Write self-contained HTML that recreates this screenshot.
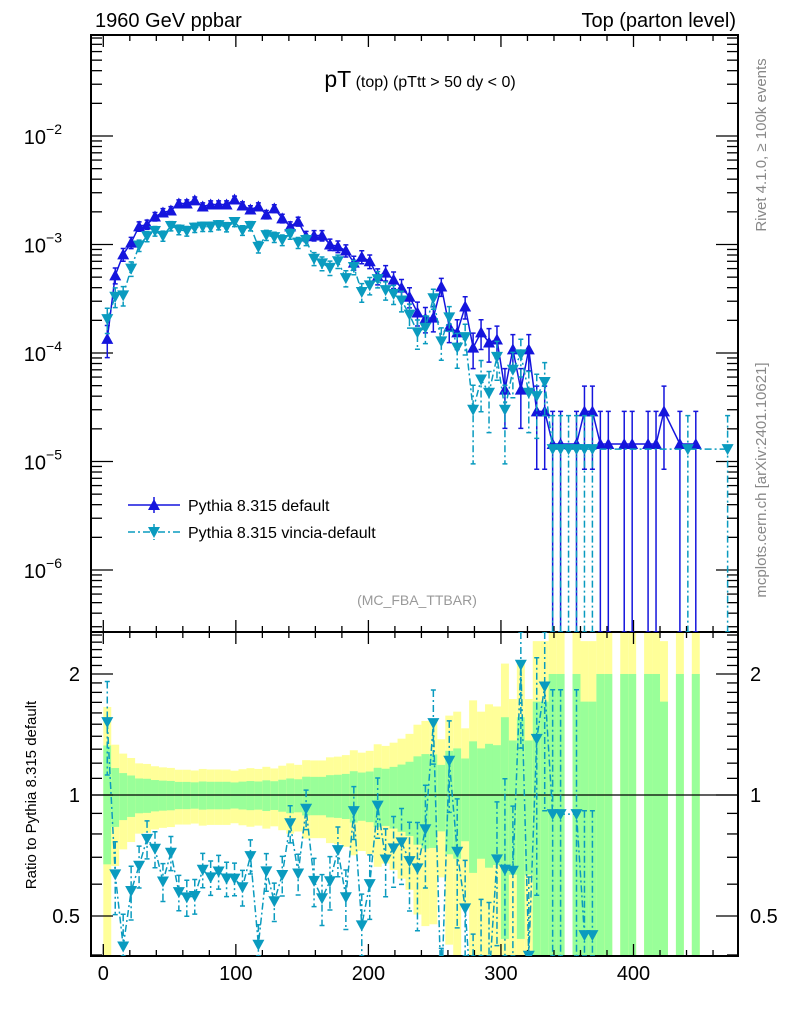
<!DOCTYPE html>
<html><head><meta charset="utf-8"><style>
html,body{margin:0;padding:0;background:#fff;overflow:hidden;width:786px;height:1024px}
svg{display:block;font-family:"Liberation Sans",Arial,sans-serif}
</style></head><body>
<svg id="chart" width="786" height="1024" viewBox="0 0 786 1024" xmlns="http://www.w3.org/2000/svg">
<defs>
<clipPath id="clipMain"><rect x="91" y="35" width="647" height="597"/></clipPath>
<clipPath id="clipRatio"><rect x="91" y="632" width="647" height="324"/></clipPath>
</defs>
<g id="bands" clip-path="url(#clipRatio)"></g>
<g id="axes"></g>
<g id="mainData" clip-path="url(#clipMain)"></g>
<g id="ratioData" clip-path="url(#clipRatio)"></g>
<text x="95" y="27" font-size="20">1960 GeV ppbar</text>
<text x="736" y="27" font-size="20" text-anchor="end">Top (parton level)</text>
<text x="420" y="87" text-anchor="middle"><tspan font-size="23">pT</tspan><tspan font-size="16"> (top)  (pTtt &gt; 50 dy &lt; 0)</tspan></text>
<text x="417" y="605" font-size="14" fill="#999" text-anchor="middle">(MC_FBA_TTBAR)</text>
<text transform="translate(766,145) rotate(-90)" font-size="15" fill="#888" text-anchor="middle">Rivet 4.1.0, ≥ 100k events</text>
<text transform="translate(766,480) rotate(-90)" font-size="15" fill="#888" text-anchor="middle">mcplots.cern.ch [arXiv:2401.10621]</text>
<text transform="translate(36,795) rotate(-90)" font-size="15" text-anchor="middle">Ratio to Pythia 8.315 default</text>
<g>
<g>
<line x1="128" y1="505" x2="180" y2="505" stroke="#1515dd" stroke-width="1.5"/>
<line x1="154" y1="497" x2="154" y2="513" stroke="#1515dd" stroke-width="1.5"/>
<polygon points="148,510 160,510 154,499" fill="#1515dd"/>
<text x="188" y="511" font-size="16">Pythia 8.315 default</text>
</g>
<g>
<line x1="128" y1="532" x2="180" y2="532" stroke="#0a9bbf" stroke-width="1.5" stroke-dasharray="7,3,2,3"/>
<line x1="154" y1="524" x2="154" y2="540" stroke="#0a9bbf" stroke-width="1.5" stroke-dasharray="7,3,2,3"/>
<polygon points="148,527 160,527 154,538" fill="#0a9bbf"/>
<text x="188" y="538" font-size="16">Pythia 8.315 vincia-default</text>
</g>
</g>
</svg>
<script>
const binWidth = 6;
const defaultVals = [1.35e-4,5.2e-4,8.1e-4,1.04e-3,1.47e-3,1.53e-3,1.81e-3,1.97e-3,2.06e-3,2.39e-3,
2.39e-3,2.55e-3,2.24e-3,2.34e-3,2.34e-3,2.34e-3,2.60e-3,2.29e-3,2.10e-3,2.24e-3,
1.89e-3,2.15e-3,1.74e-3,1.47e-3,1.63e-3,1.19e-3,1.21e-3,1.21e-3,1.0e-3,0.96e-3,
0.88e-3,0.68e-3,0.77e-3,0.70e-3,0.51e-3,0.55e-3,0.475e-3,0.40e-3,0.33e-3,0.236e-3,
0.208e-3,0.212e-3,0.41e-3,0.175e-3,0.155e-3,0.268e-3,0.112e-3,0.155e-3,0.125e-3,0.133e-3,
0.046e-3,0.108e-3,0.046e-3,0.108e-3,2.9e-5,2.9e-5,1.45e-5,1.45e-5,0,1.45e-5,
2.9e-5,2.9e-5,1.45e-5,1.45e-5,0,1.45e-5,1.45e-5,0,1.45e-5,1.45e-5,
2.9e-5,0,1.45e-5,0,1.45e-5,0,0,0,0];
const vinciaVals = [2.05e-4,3.3e-4,3.4e-4,6.0e-4,0.98e-3,1.19e-3,1.33e-3,1.2e-3,1.48e-3,1.37e-3,
1.33e-3,1.43e-3,1.46e-3,1.46e-3,1.51e-3,1.45e-3,1.61e-3,1.35e-3,1.48e-3,0.95e-3,
1.22e-3,1.17e-3,1.10e-3,1.25e-3,1.04e-3,1.1e-3,0.74e-3,0.67e-3,0.61e-3,0.70e-3,
0.49e-3,0.62e-3,0.365e-3,0.42e-3,0.48e-3,0.38e-3,0.35e-3,0.305e-3,0.226e-3,0.155e-3,
0.171e-3,0.32e-3,0.128e-3,0.213e-3,0.112e-3,0.14e-3,0.030e-3,0.057e-3,0.043e-3,0.092e-3,
0.03e-3,0.07e-3,0.097e-3,0.043e-3,0.04e-3,0.054e-3,1.3e-5,1.3e-5,1.3e-5,1.3e-5,
1.3e-5,1.3e-5,0,0,0,0,0,0,0,0,
0,0,0,1.3e-5,0,0,0,0,1.3e-5];
const eventWeightDefault = 1.45e-5;
const eventWeightVincia = 1.4e-5;
const xTicks = [0,100,200,300,400];
const yTicksMain = [-6,-5,-4,-3,-2];
const yTicksRatio = [0.5,1,2];

const NS="http://www.w3.org/2000/svg";
const X0=103.3, XS=1.3255;
function X(g){return X0+g*XS;}
function Ym(v){return 136-(Math.log10(v)+2)*108.5;}
function Yr(r){return 795-Math.log10(r)*402;}
const MAIN_TOP=35, MAIN_BOT=632, R_TOP=632, R_BOT=956, LEFT=91, RIGHT=738;
function mk(parent,tag,attrs){const e=document.createElementNS(NS,tag);for(const k in attrs)e.setAttribute(k,attrs[k]);parent.appendChild(e);return e;}
const axes=document.getElementById('axes');
const bands=document.getElementById('bands');
const mainG=document.getElementById('mainData');
const ratioG=document.getElementById('ratioData');
const BLUE="#1515dd", CYAN="#0a9bbf";
function clampR(y){return Math.max(R_TOP,Math.min(R_BOT,y));}
function clampM(y){return Math.max(MAIN_TOP,Math.min(MAIN_BOT,y));}

for(let i=0;i<defaultVals.length;i++){
  const d=defaultVals[i]; if(d<=0) continue;
  const e=Math.sqrt(eventWeightDefault/d);
  const x1=X(i*binWidth), x2=X((i+1)*binWidth);
  const yTop=clampR(Yr(1+2*e)), yBot=(1-2*e)>0?clampR(Yr(1-2*e)):R_BOT;
  const yb=mk(bands,'rect',{x:x1,y:yTop,width:x2-x1,height:yBot-yTop,fill:'#ffff99'});
  
  
  const gTop=clampR(Yr(1+e)), gBot=(1-e)>0.001?clampR(Yr(1-e)):R_BOT;
  const gb=mk(bands,'rect',{x:x1,y:gTop,width:x2-x1,height:gBot-gTop,fill:'#99ff99'});
  
  
}

function frame(y1,y2,name){const r=mk(axes,'rect',{x:LEFT,y:y1,width:RIGHT-LEFT,height:y2-y1,fill:'none',stroke:'#000','stroke-width':2});

}
frame(MAIN_TOP,MAIN_BOT,'main-plot-frame');frame(R_TOP,R_BOT,'ratio-plot-frame');
function tick(x1,y1,x2,y2,w){mk(axes,'line',{x1,y1,x2,y2,stroke:'#000','stroke-width':w||1.3});}
for(let g=-20;g<=480;g+=20){
  const x=X(g); if(x<LEFT||x>RIGHT) continue;
  const maj=g%100===0; const L=maj?12:6;
  [[MAIN_TOP,1],[MAIN_BOT,-1],[R_TOP,1],[R_BOT,-1]].forEach(([y,s])=>tick(x,y,x,y+s*L));
}
xTicks.forEach(t=>{const tx=mk(axes,'text',{x:X(t),y:980,'font-size':20,'text-anchor':'middle'});tx.textContent=t;

});
for(let dec=-7;dec<=-1;dec++){
  for(let m=1;m<=9;m++){
    const y=Ym(m*Math.pow(10,dec)); if(y<MAIN_TOP||y>MAIN_BOT) continue;
    const L=m===1?22:11;
    tick(LEFT,y,LEFT+L,y);tick(RIGHT,y,RIGHT-L,y);
  }
}
yTicksMain.forEach(p=>{const tx=mk(axes,'text',{x:62,y:Ym(Math.pow(10,p))+8,'font-size':20,'text-anchor':'end'});
tx.innerHTML='10<tspan font-size="14" dy="-10">'+(p<0?'−'+(-p):p)+'</tspan>';

});
const minorR=[0.4,0.6,0.7,0.8,0.9,1.1,1.2,1.3,1.4,1.5,1.6,1.7,1.8,1.9,2.1,2.2,2.3,2.4,2.5];
minorR.forEach(r=>{const y=Yr(r);if(y<R_TOP||y>R_BOT)return;tick(LEFT,y,LEFT+11,y);tick(RIGHT,y,RIGHT-11,y);});
yTicksRatio.forEach(r=>{const y=Yr(r);tick(LEFT,y,LEFT+22,y);tick(RIGHT,y,RIGHT-22,y);
 const a=mk(axes,'text',{x:80,y:y+7,'font-size':20,'text-anchor':'end'});a.textContent=r;
 
 
 const b=mk(axes,'text',{x:750,y:y+7,'font-size':20});b.textContent=r;
 
 });
mk(ratioG,'line',{x1:LEFT,y1:Yr(1),x2:RIGHT,y2:Yr(1),stroke:'#000','stroke-width':1.3});

function series(g,vals,w,color,dash,up,name){
  const pts=[];
  vals.forEach((v,i)=>{
    if(v<=0) return;
    const x=X((i+0.5)*binWidth), y=Ym(v);
    const err=Math.sqrt(w*v);
    const yt=clampM(Ym(v+err)), yb=(v-err)>1e-9?clampM(Ym(v-err)):MAIN_BOT;
    const eb=mk(g,'path',{d:`M${x},${yt}V${yb}M${x-2.5},${yt}H${x+2.5}M${x-2.5},${yb}H${x+2.5}`,stroke:color,'stroke-width':1.5,fill:'none','stroke-dasharray':dash});
    
    
    pts.push([x,y]);
  });
  const ln=mk(g,'polyline',{points:pts.map(p=>p.join(',')).join(' '),fill:'none',stroke:color,'stroke-width':1.5,'stroke-dasharray':dash});
  
  
  pts.forEach(([x,y])=>{
    const p=up?`${x-6},${y+5} ${x+6},${y+5} ${x},${y-6}`:`${x-6},${y-5} ${x+6},${y-5} ${x},${y+6}`;
    const m=mk(g,'polygon',{points:p,fill:color});
    
    
  });
}
series(mainG,defaultVals,eventWeightDefault,BLUE,'none',true,'default');
series(mainG,vinciaVals,eventWeightVincia,CYAN,'7,3,2,3',false,'vincia');

const rpts=[];
vinciaVals.forEach((v,i)=>{
  const d=defaultVals[i]; if(!(v>0&&d>0)) return;
  const r=v/d, e=r*Math.sqrt(eventWeightVincia/v);
  const x=X((i+0.5)*binWidth), y=Yr(r);
  const yt=clampR(Yr(r+e)), yb=(r-e)>0.01?clampR(Yr(r-e)):R_BOT;
  const eb=mk(ratioG,'path',{d:`M${x},${yt}V${yb}M${x-2.5},${yt}H${x+2.5}M${x-2.5},${yb}H${x+2.5}`,stroke:CYAN,'stroke-width':1.5,fill:'none','stroke-dasharray':'7,3,2,3'});
  
  
  rpts.push([x,y]);
});
const rl=mk(ratioG,'polyline',{points:rpts.map(p=>p.join(',')).join(' '),fill:'none',stroke:CYAN,'stroke-width':1.5,'stroke-dasharray':'7,3,2,3'});


rpts.forEach(([x,y])=>{
  const m=mk(ratioG,'polygon',{points:`${x-6},${y-5} ${x+6},${y-5} ${x},${y+6}`,fill:CYAN});
  
  
});
</script>
</body></html>
